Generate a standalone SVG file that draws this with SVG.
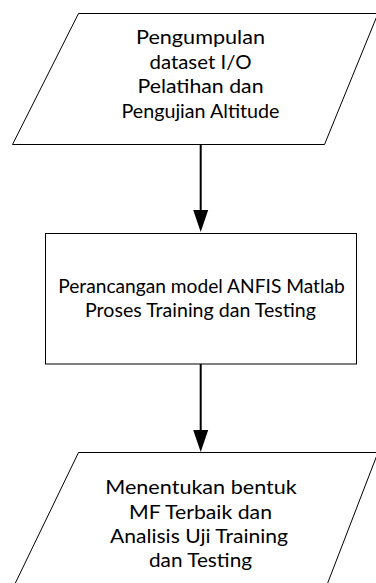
<svg xmlns="http://www.w3.org/2000/svg" width="376" height="583" viewBox="0 0 376 583">
<defs>
<style>
.shape{fill:#fff;stroke:#000;stroke-width:1}
.conn{stroke:#000;stroke-width:2;fill:none}
.t{font-family:Lato,"Noto Sans",sans-serif;font-size:18.5px;fill:#000;text-anchor:middle}
</style>
<marker id="arr" markerUnits="userSpaceOnUse" markerWidth="16" markerHeight="22" refX="15" refY="7.5" orient="auto" viewBox="0 0 15 15">
<path d="M0,0 L15,7.5 L0,15 Z" fill="#000"/>
</marker>
</defs>
<rect width="376" height="583" fill="#fff"/>
<g id="n1">
<polygon class="shape" points="78.5,13.5 378,13.5 324.5,144.5 12.5,144.5"/>
<text class="t" x="200.5" y="44" textLength="129" lengthAdjust="spacingAndGlyphs">Pengumpulan</text>
<text class="t" x="200.5" y="68.5" textLength="102" lengthAdjust="spacingAndGlyphs">dataset I/O</text>
<text class="t" x="200.5" y="93" textLength="126" lengthAdjust="spacingAndGlyphs">Pelatihan dan</text>
<text class="t" x="200.5" y="117.5" textLength="158" lengthAdjust="spacingAndGlyphs">Pengujian Altitude</text>
</g>
<g id="n2">
<rect class="shape" x="45.5" y="233.5" width="311" height="130.5"/>
<text class="t" x="201.5" y="292.5" textLength="286.5" lengthAdjust="spacingAndGlyphs">Perancangan model ANFIS Matlab</text>
<text class="t" x="200.5" y="316.5" textLength="231" lengthAdjust="spacingAndGlyphs">Proses Training dan Testing</text>
</g>
<g id="n3">
<polygon class="shape" points="78.5,452.5 378,452.5 325,590 12,590"/>
<text class="t" x="201" y="494" textLength="191.5" lengthAdjust="spacingAndGlyphs">Menentukan bentuk</text>
<text class="t" x="200.5" y="518.5" textLength="143" lengthAdjust="spacingAndGlyphs">MF Terbaik dan</text>
<text class="t" x="199" y="542.5" textLength="178" lengthAdjust="spacingAndGlyphs">Analisis Uji Training</text>
<text class="t" x="200.5" y="566.5" textLength="103" lengthAdjust="spacingAndGlyphs">dan Testing</text>
</g>
<g id="connectors">
<line class="conn" x1="200.7" y1="145" x2="200.7" y2="211"/>
<polygon points="193.2,210 208.2,210 200.7,232" fill="#000"/>
<line class="conn" x1="200.7" y1="364" x2="200.7" y2="431"/>
<polygon points="193.2,430 208.2,430 200.7,452" fill="#000"/>
</g>
</svg>
